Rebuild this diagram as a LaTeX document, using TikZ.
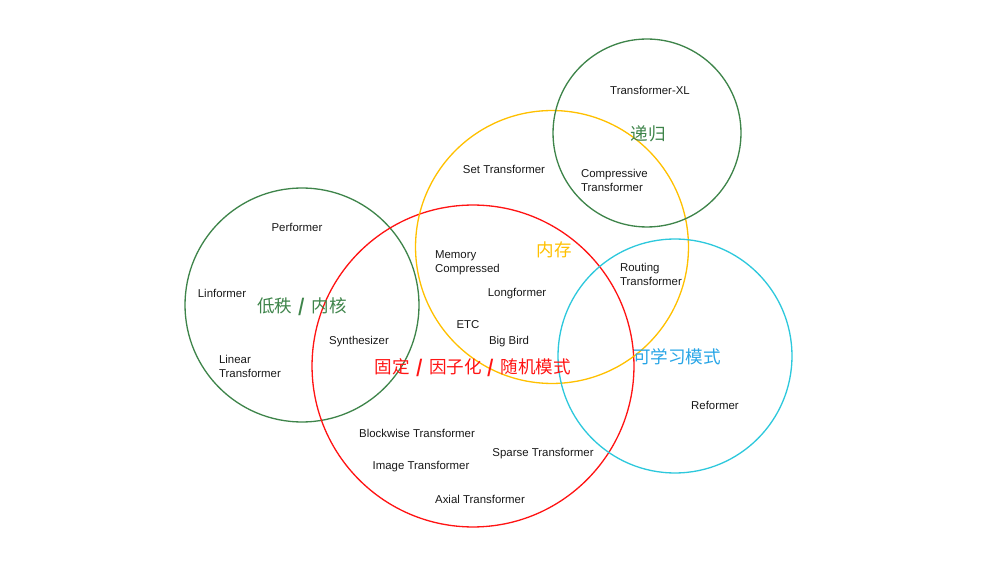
\documentclass[tikz,border=0pt]{standalone}
\usepackage{fontspec}
\setmainfont{Liberation Sans}
\newfontfamily\cjk{Noto Sans CJK SC}
\usetikzlibrary{shapes.geometric, positioning}

\definecolor{recgreen}{RGB}{62,132,74}
\definecolor{memyellow}{RGB}{255,192,0}
\definecolor{fixred}{RGB}{255,20,20}
\definecolor{learncyan}{RGB}{45,200,220}
\definecolor{learnblue}{RGB}{40,165,230}

\newcommand{\sep}{\hspace{0.35em}{\bfseries\itshape /}\hspace{0.35em}}

\begin{document}
\begin{tikzpicture}[
    x=0.02cm, y=-0.02cm,
    ring/.style={
        circle, inner sep=0pt, outer sep=0pt,
        line width=0.75pt, fill=none
    },
    model/.style={
        font=\fontsize{6.5}{8}\selectfont, text=black!90,
        inner sep=1pt, align=center, yshift=-0.03cm
    },
    modelleft/.style={model, align=left, anchor=west},
    group/.style={font=\fontsize{10}{12}\selectfont\cjk, inner sep=1pt},
]

\useasboundingbox (0,0) rectangle (1000,563);

% Circles
\node[ring, draw=recgreen, minimum size=4.68cm] (lowrank) at (302,305) {};
\node[ring, draw=fixred, minimum size=6.44cm] (fixed) at (473,366) {};
\node[ring, draw=memyellow, minimum size=5.46cm] (memory) at (552,247) {};
\node[ring, draw=recgreen, minimum size=3.76cm] (recur) at (647,133) {};
\node[ring, draw=learncyan, minimum size=4.68cm] (learn) at (675,356) {};

% Group labels
\node[group, text=recgreen] (lowranklbl) at (302,307) {低秩\sep 内核};
\node[group, text=fixred] (fixedlbl) at (473,368) {固定\sep 因子化\sep 随机模式};
\node[group, text=memyellow] (memorylbl) at (554,250) {内存};
\node[group, text=recgreen] (recurlbl) at (648,134) {递归};
\node[group, text=learnblue] (learnlbl) at (677,357) {可学习模式};

% Models
\node[model] (txl) at (650,89) {Transformer-XL};
\node[modelleft] (compressive) at (579,179) {Compressive\\Transformer};
\node[model] (settf) at (504,168) {Set Transformer};
\node[model] (performer) at (297,226) {Performer};
\node[modelleft] (memcomp) at (433,261) {Memory\\Compressed};
\node[modelleft] (routing) at (618,273) {Routing\\Transformer};
\node[model] (linformer) at (222,292) {Linformer};
\node[model] (longformer) at (517,292) {Longformer};
\node[model] (etc) at (468,323) {ETC};
\node[model] (bigbird) at (509,340) {Big Bird};
\node[model] (synth) at (359,340) {Synthesizer};
\node[modelleft] (lineartf) at (217,365) {Linear\\Transformer};
\node[model] (reformer) at (715,404) {Reformer};
\node[model] (blockwise) at (417,432) {Blockwise Transformer};
\node[model] (sparse) at (543,452) {Sparse Transformer};
\node[model] (image) at (421,465) {Image Transformer};
\node[model] (axial) at (480,498) {Axial Transformer};

\end{tikzpicture}
\end{document}
